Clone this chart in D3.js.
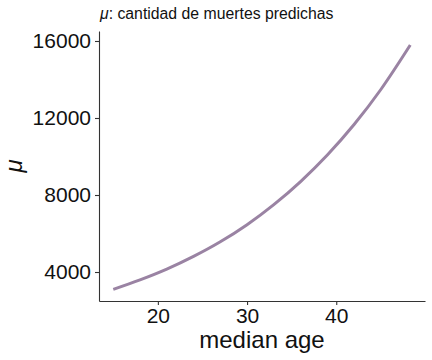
<!DOCTYPE html>
<html><head><meta charset="utf-8">
<script src="https://cdn.jsdelivr.net/npm/d3@7"></script>
<style>body{margin:0;background:#fff}svg{display:block}text{font-family:"Liberation Sans",Arial,sans-serif}</style>
</head><body>
<svg id="c" width="432" height="360"></svg>
<script>
const ages = [15, 18, 21, 24, 27, 30, 33, 36, 39, 42, 45, 48.3];
const mu = [3100, 3590, 4150, 4810, 5570, 6460, 7500, 8700, 10080, 11660, 13480, 15790];
const xTicks = [20, 30, 40];
const yTicks = [4000, 8000, 12000, 16000];
const titleText = ": cantidad de muertes predichas";
const xLabel = "median age";

const svg = d3.select("#c");
const L = 99, R = 425, T = 31, B = 301;
const x = d3.scaleLinear().domain([13.4, 49.95]).range([L, R]);
const y = d3.scaleLinear().domain([2494, 16519]).range([B, T]);

const data = ages.map((a, i) => ({a, v: mu[i]}));

svg.append("path").datum(data)
  .attr("fill", "none").attr("stroke", "#9a83a3").attr("stroke-width", 3)
  .attr("d", d3.line().x(d => x(d.a)).y(d => y(d.v)).curve(d3.curveMonotoneX));

const xa = svg.append("g").attr("transform", `translate(0,${B})`)
  .call(d3.axisBottom(x).tickValues(xTicks).tickSize(4).tickPadding(3).tickSizeOuter(0));
const ya = svg.append("g").attr("transform", `translate(${L},0)`)
  .call(d3.axisLeft(y).tickValues(yTicks).tickSize(4).tickPadding(4).tickSizeOuter(0).tickFormat(d3.format("d")));
[xa, ya].forEach(g => {
  g.selectAll("path.domain").attr("stroke", "#333").attr("stroke-width", 1.1);
  g.selectAll(".tick line").attr("stroke", "#333").attr("stroke-width", 1.1);
  g.selectAll(".tick text").attr("fill", "#111").style("font-size", "21px");
});

svg.append("text").attr("x", (L + R) / 2).attr("y", 348).attr("text-anchor", "middle")
  .style("font-size", "24px").attr("fill", "#111").text(xLabel);
svg.append("text").attr("transform", "translate(22,166) rotate(-90)").attr("text-anchor", "middle")
  .style("font-size", "24px").style("font-style", "italic").attr("fill", "#111").text("μ");

const t = svg.append("text").attr("x", 100).attr("y", 19).style("font-size", "15.8px").attr("fill", "#111");
t.append("tspan").style("font-style", "italic").text("μ");
t.append("tspan").text(titleText);
</script>
</body></html>
